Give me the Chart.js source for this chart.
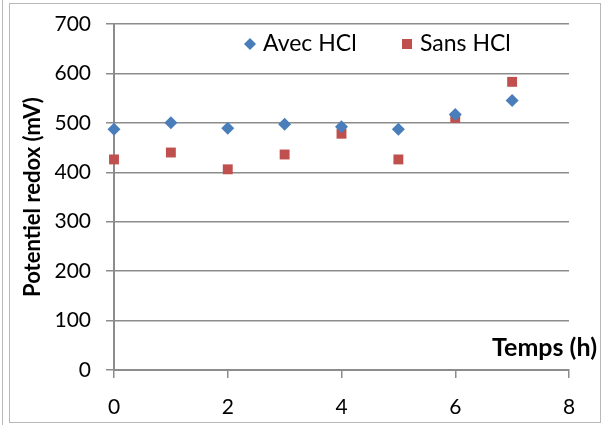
<!DOCTYPE html>
<html>
<head>
<meta charset="utf-8">
<script src="https://cdn.jsdelivr.net/npm/chart.js@4"></script>
<style>
  html, body { margin: 0; padding: 0; background: #fff; }
  #wrap { position: relative; width: 604px; height: 425px; }
  #frame { position: absolute; left: 9px; top: 3px; width: 590px; height: 418px; border: 1px solid #b8b8b8; }
  #edge { position: absolute; left: 2px; top: 0; width: 0; height: 425px; border-left: 1px solid #b8b8b8; }
  canvas { position: absolute; left: 0; top: 0; }
</style>
</head>
<body>
<div id="wrap">
  <div id="edge"></div>
  <div id="frame"></div>
  <canvas id="myChart" width="604" height="425"></canvas>
</div>
<script>
// data
const hours = [0, 1, 2, 3, 4, 5, 6, 7];
const avecHCl = [487, 500, 489, 497, 492, 487, 517, 545];
const sansHCl = [426, 440, 406, 436, 478, 426, 510, 583];
const seriesNames = ['Avec HCl', 'Sans HCl'];
const xTitle = 'Temps (h)';
const yTitle = 'Potentiel redox (mV)';

const FONT = 'Lato, "Open Sans", sans-serif';
const gridGrey = '#8c8c8c';

function toPoints(xs, ys) {
    return xs.map((x, i) => ({ x: x, y: ys[i] }));
}

// legend and x title sit inside the plot, like the excel original
const insideText = {
    id: 'insideText',
    afterDraw(chart) {
        const ctx = chart.ctx;
        const area = chart.chartArea;
        ctx.save();
        ctx.textBaseline = 'middle';
        ctx.fillStyle = '#000';

        // legend
        ctx.font = '23px ' + FONT;
        const legendY = area.top + 20;
        const starts = [250, 407];
        chart.data.datasets.forEach((ds, i) => {
            const mx = starts[i];
            ctx.fillStyle = ds.backgroundColor;
            ctx.beginPath();
            if (ds.pointStyle === 'rectRot') {
                ctx.moveTo(mx, legendY - 6);
                ctx.lineTo(mx + 6, legendY);
                ctx.lineTo(mx, legendY + 6);
                ctx.lineTo(mx - 6, legendY);
            } else {
                ctx.rect(mx - 5, legendY - 5, 10, 10);
            }
            ctx.fill();
            ctx.fillStyle = '#000';
            ctx.textAlign = 'left';
            ctx.fillText(ds.label, mx + 13, legendY);
        });

        // x axis title
        ctx.font = 'bold 25px ' + FONT;
        ctx.textAlign = 'right';
        ctx.fillText(xTitle, 597, area.bottom - 22);
        ctx.restore();
    }
};

const myChart = new Chart('myChart', {
    type: 'scatter',
    data: {
        datasets: [{
            label: seriesNames[0],
            data: toPoints(hours, avecHCl),
            pointStyle: 'rectRot',
            pointRadius: 6.5,
            pointHoverRadius: 6.5,
            backgroundColor: '#4a7ebb',
            borderColor: '#4a7ebb',
            borderWidth: 0,
            clip: false
        }, {
            label: seriesNames[1],
            data: toPoints(hours, sansHCl),
            pointStyle: 'rect',
            pointRadius: 7,
            pointHoverRadius: 7,
            backgroundColor: '#c0504d',
            borderColor: '#c0504d',
            borderWidth: 0,
            clip: false
        }]
    },
    options: {
        responsive: false,
        animation: false,
        layout: { padding: { left: 0, right: 35, top: 24, bottom: 0 } },
        plugins: {
            legend: { display: false },
            tooltip: { enabled: false }
        },
        scales: {
            x: {
                type: 'linear',
                min: 0,
                max: 8,
                ticks: { stepSize: 2, color: '#000', padding: 17, font: { family: FONT, size: 21 } },
                grid: { drawOnChartArea: false, tickLength: 8, color: gridGrey, lineWidth: 1.5 },
                border: { color: gridGrey, width: 2 },
                afterFit(scale) {
                    scale.height = 55;
                    scale.paddingLeft = 0;
                    scale.paddingRight = 0;
                }
            },
            y: {
                min: 0,
                max: 700,
                ticks: { stepSize: 100, color: '#000', padding: 15, font: { family: FONT, size: 21 } },
                grid: { tickLength: 8, color: gridGrey, lineWidth: 1.5 },
                border: { color: gridGrey, width: 2 },
                title: {
                    display: true,
                    text: yTitle,
                    color: '#000',
                    padding: { top: 20, bottom: 0 },
                    font: { family: FONT, size: 22, weight: 'bold' }
                },
                afterFit(scale) {
                    scale.width = 114;
                    scale.paddingTop = 0;
                    scale.paddingBottom = 0;
                }
            }
        }
    },
    plugins: [insideText]
});
</script>
</body>
</html>
